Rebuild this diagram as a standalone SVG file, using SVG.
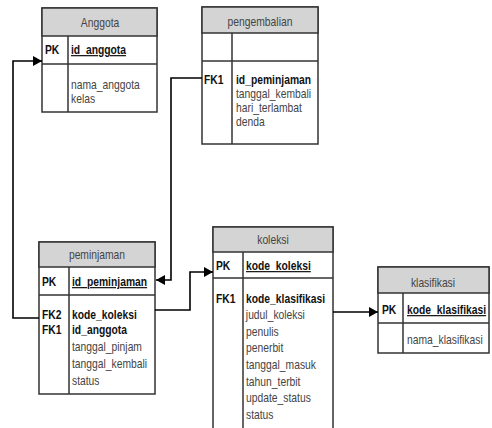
<svg xmlns="http://www.w3.org/2000/svg" width="492" height="428" viewBox="0 0 492 428">
<defs>
<marker id="arr" markerWidth="10" markerHeight="10" refX="9" refY="5" orient="auto" markerUnits="userSpaceOnUse">
<path d="M0,0 L9,5 L0,10 Z" fill="#000"/>
</marker>
<style>
text{font-family:"Liberation Sans",Arial,sans-serif;font-size:12px;transform-box:fill-box;transform-origin:0 50%;transform:scaleX(0.86);}
.box{fill:#fff;stroke:#333;stroke-width:1.5;}
.hdr{fill:#d4d4d4;stroke:#333;stroke-width:1.5;}
.ln{stroke:#333;stroke-width:1.5;fill:none;}
.t{fill:#444;text-anchor:middle;transform-origin:50% 50%;}
.k{fill:#111;font-weight:bold;}
.b{fill:#111;font-weight:bold;}
.pk{fill:#111;font-weight:bold;text-decoration:underline;}
.n{fill:#444;}
.c{stroke:#000;stroke-width:1.6;fill:none;}
</style>
</defs>
<rect width="492" height="428" fill="#fff"/>

<g id="anggota">
<rect class="box" x="42" y="8" width="115" height="104"/>
<rect class="hdr" x="42" y="8" width="115" height="28"/>
<line class="ln" x1="42" y1="64" x2="157" y2="64"/>
<line class="ln" x1="68" y1="36" x2="68" y2="112"/>
<text class="t" x="100" y="27">Anggota</text>
<text class="k" x="45" y="54">PK</text>
<text class="pk" x="71" y="54">id_anggota</text>
<text class="n" x="71" y="89">nama_anggota</text>
<text class="n" x="71" y="103">kelas</text>
</g>

<g id="pengembalian">
<rect class="box" x="202" y="7" width="116" height="137"/>
<rect class="hdr" x="202" y="7" width="116" height="26"/>
<line class="ln" x1="202" y1="61" x2="318" y2="61"/>
<line class="ln" x1="232" y1="33" x2="232" y2="144"/>
<text class="t" x="260" y="26">pengembalian</text>
<text class="k" x="204" y="84">FK1</text>
<text class="b" x="236" y="84">id_peminjaman</text>
<text class="n" x="236" y="98">tanggal_kembali</text>
<text class="n" x="236" y="112">hari_terlambat</text>
<text class="n" x="236" y="126">denda</text>
</g>

<g id="peminjaman">
<rect class="box" x="39" y="242" width="116" height="152"/>
<rect class="hdr" x="39" y="242" width="116" height="25"/>
<line class="ln" x1="39" y1="295" x2="155" y2="295"/>
<line class="ln" x1="69" y1="267" x2="69" y2="394"/>
<text class="t" x="97" y="259">peminjaman</text>
<text class="k" x="42" y="286">PK</text>
<text class="pk" x="72" y="286">id_peminjaman</text>
<text class="k" x="42" y="319">FK2</text>
<text class="b" x="72" y="319">kode_koleksi</text>
<text class="k" x="42" y="334">FK1</text>
<text class="b" x="72" y="334">id_anggota</text>
<text class="n" x="72" y="351">tanggal_pinjam</text>
<text class="n" x="72" y="368">tanggal_kembali</text>
<text class="n" x="72" y="385">status</text>
</g>

<g id="koleksi">
<rect class="box" x="213" y="227" width="120" height="210"/>
<rect class="hdr" x="213" y="227" width="120" height="25"/>
<line class="ln" x1="213" y1="278" x2="333" y2="278"/>
<line class="ln" x1="243" y1="252" x2="243" y2="437"/>
<text class="t" x="273" y="244">koleksi</text>
<text class="k" x="216" y="270">PK</text>
<text class="pk" x="246" y="270">kode_koleksi</text>
<text class="k" x="216" y="303">FK1</text>
<text class="b" x="246" y="303">kode_klasifikasi</text>
<text class="n" x="246" y="319">judul_koleksi</text>
<text class="n" x="246" y="336">penulis</text>
<text class="n" x="246" y="352">penerbit</text>
<text class="n" x="246" y="369">tanggal_masuk</text>
<text class="n" x="246" y="386">tahun_terbit</text>
<text class="n" x="246" y="402">update_status</text>
<text class="n" x="246" y="419">status</text>
</g>

<g id="klasifikasi">
<rect class="box" x="378" y="267" width="111" height="86"/>
<rect class="hdr" x="378" y="267" width="111" height="26"/>
<line class="ln" x1="378" y1="323" x2="489" y2="323"/>
<line class="ln" x1="403" y1="293" x2="403" y2="353"/>
<text class="t" x="433" y="287">klasifikasi</text>
<text class="k" x="382" y="314">PK</text>
<text class="pk" x="407" y="314">kode_klasifikasi</text>
<text class="n" x="407" y="344">nama_klasifikasi</text>
</g>

<g id="connectors">
<polyline class="c" points="39,318 13,318 13,61 42,61" marker-end="url(#arr)"/>
<polyline class="c" points="202,78 171,78 171,280 156,280" marker-end="url(#arr)"/>
<polyline class="c" points="155,310 190,310 190,272 213,272" marker-end="url(#arr)"/>
<polyline class="c" points="333,312 378,312" marker-end="url(#arr)"/>
</g>
</svg>
